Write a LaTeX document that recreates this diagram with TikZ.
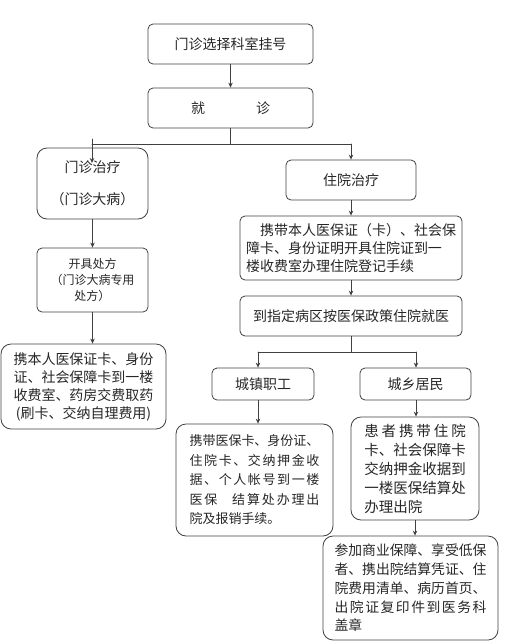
\documentclass[tikz,border=0pt]{standalone}
\usepackage{fontspec}
\setmainfont{Noto Sans CJK SC}
\usepackage{tikz}
\usetikzlibrary{arrows.meta}

\begin{document}
\begin{tikzpicture}[x=1pt,y=-1pt,>={Stealth[length=5pt,width=4.5pt]},line cap=round,
  box/.style={draw=black!75,line width=0.8pt,rounded corners=5pt,text=black!85,inner sep=0pt,align=center,font=\fontsize{14}{18}\selectfont},
  bigbox/.style={box,rounded corners=10pt},
  link/.style={draw=black!75,line width=0.8pt}]
\useasboundingbox (0,0) rectangle (516,641);
\node[box,minimum width=165pt,minimum height=40pt] (reg) at (230.5,44) {门诊选择科室挂号};
\node[box,minimum width=165pt,minimum height=40pt] (visit) at (230.5,108) {就\hspace{51pt}诊};
\node[bigbox,minimum width=111pt,minimum height=71pt] (outp) at (92.5,183.5) {门诊治疗\\[14pt]（门诊大病）};
\node[box,minimum width=130pt,minimum height=40pt] (inp) at (351,180) {住院治疗};
\node[box,minimum width=222pt,minimum height=64pt,align=left] (admit) at (351,248)
  {\hspace*{1em}携带本人医保证（卡）、社会保\\障卡、身份证明开具住院证到一\\楼收费室办理住院登记手续};
\node[box,minimum width=222pt,minimum height=40pt] (ward) at (351,316) {到指定病区按医保政策住院就医};
\node[box,minimum width=102pt,minimum height=32pt] (urban) at (263,384) {城镇职工};
\node[box,minimum width=111pt,minimum height=32pt] (rural) at (415.5,384) {城乡居民};
\node[bigbox,minimum width=157pt,minimum height=112pt,align=left,font=\fontsize{13}{19.5}\selectfont] (urbset) at (254.5,480)
  {携带医保卡、身份证、\\
   \makebox[10em][s]{住\hfill 院\hfill 卡\hfill 、\hfill 交\hfill 纳\hfill 押\hfill 金\hfill 收}\\
   \makebox[10em][s]{据\hfill 、\hfill 个\hfill 人\hfill 帐\hfill 号\hfill 到\hfill 一\hfill 楼}\\
   \makebox[10em][s]{医\hfill 保\hspace{1em}\hfill 结\hfill 算\hfill 处\hfill 办\hfill 理\hfill 出}\\
   院及报销手续。};
\node[bigbox,minimum width=128pt,minimum height=103pt,align=left,font=\fontsize{14.5}{19}\selectfont] (rurset) at (415,468.5)
  {\makebox[7em][s]{患\hfill 者\hfill 携\hfill 带\hfill 住\hfill 院}\\
   卡、社会保障卡\\交纳押金收据到\\一楼医保结算处\\办理出院};
\node[bigbox,minimum width=175pt,minimum height=104pt,align=left,font=\fontsize{13.8}{18.7}\selectfont] (extra) at (410.5,588)
  {参加商业保障、享受低保\\者、携出院结算凭证、住\\院费用清单、病历首页、\\
   \makebox[11em][s]{出\hfill 院\hfill 证\hfill 复\hfill 印\hfill 件\hfill 到\hfill 医\hfill 务\hfill 科}\\盖章};
\node[box,minimum width=111pt,minimum height=64pt,font=\fontsize{12}{16}\selectfont] (presc) at (92.5,280)
  {开具处方\\（门诊大病专用\\处方）};
\node[bigbox,minimum width=165pt,minimum height=85pt] (pay) at (83.5,386.5)
  {携本人医保证卡、身份\\证、社会保障卡到一楼\\收费室、药房交费取药\\(刷卡、交纳自理费用)};

\coordinate (vjoin) at (230.5,144);
\coordinate (ltop) at (92,139);
\coordinate (lend) at (92,163);
\coordinate (wjoin) at (351,352);
\coordinate (ujoin) at (258,352);
\coordinate (rjoin) at (416,352);

\draw[link,->] (reg) -- (visit);
\draw[link] (visit) -- (vjoin);
\draw[link] (ltop |- vjoin) -- (vjoin -| inp);
\draw[link,->] (ltop) -- (lend);
\draw[link,->] (vjoin -| inp) -- (inp);
\draw[link,->] (inp) -- (admit);
\draw[link,->] (admit) -- (ward);
\draw[link] (ward) -- (wjoin);
\draw[link] (ujoin) -- (rjoin);
\draw[link,->] (ujoin) -- (ujoin |- urban.north);
\draw[link,->] (rjoin) -- (rjoin |- rural.north);
\draw[link,->] (ujoin |- urban.south) -- (ujoin |- urbset.north);
\draw[link,->] (rjoin |- rural.south) -- (rjoin |- rurset.north);
\draw[link,->] (rurset.south) -- (rurset.south |- extra.north);
\draw[link,->] (outp) -- (presc);
\draw[link,->] (presc.south) -- (presc.south |- pay.north);
\end{tikzpicture}
\end{document}
